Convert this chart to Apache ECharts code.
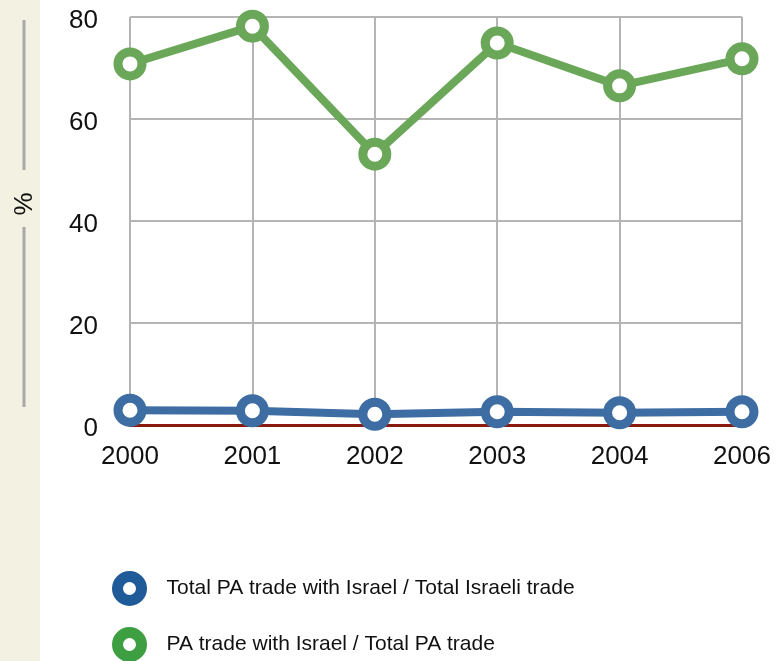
<!DOCTYPE html>
<html><head><meta charset="utf-8">
<script src="https://cdn.jsdelivr.net/npm/echarts@6/dist/echarts.min.js"></script>
<style>html,body{margin:0;padding:0;background:#fff}#c{width:784px;height:661px}</style>
</head><body><div id="c"></div>
<script>
const categories = ['2000','2001','2002','2003','2004','2006'];
const paIsraelShareOfIsraeli = [2.9, 2.8, 2.1, 2.6, 2.4, 2.6];
const paIsraelShareOfPA = [70.8, 78.2, 53.1, 74.9, 66.5, 71.8];
const seriesNames = ['Total PA trade with Israel / Total Israeli trade', 'PA trade with Israel / Total PA trade'];
const yTicks = [0, 20, 40, 60, 80];

const font = 'Liberation Sans, Arial, Helvetica, sans-serif';
const chart = echarts.init(document.getElementById('c'));
const legendText = {fontSize:21, fontFamily:font, color:'#111', padding:[0,0,0,20]};
chart.setOption({
  animation: false,
  backgroundColor: '#fff',
  graphic: [
    {type:'rect', left:0, top:0, shape:{x:0,y:0,width:40,height:661}, style:{fill:'#F3F1E2'}, z:-10},
    {type:'line', shape:{x1:24,y1:20,x2:24,y2:170}, style:{stroke:'#a8a8a8', lineWidth:3}},
    {type:'line', shape:{x1:24,y1:227,x2:24,y2:407}, style:{stroke:'#a8a8a8', lineWidth:3}},
    {type:'text', x:25, y:204, rotation:Math.PI/2, style:{text:'%', font:'26px '+font, fill:'#111', align:'center', verticalAlign:'middle'}}
  ],
  grid: {left:130, right:42, top:17, bottom:236, containLabel:false},
  legend: [
    {orient:'vertical', left:107, top:566, itemWidth:24, itemHeight:24, selectedMode:false,
     textStyle:legendText,
     data:[{name: seriesNames[0], icon:'circle', itemStyle:{color:'#fff', borderColor:'#1F5B98', borderWidth:11}}]},
    {orient:'vertical', left:107, top:622, itemWidth:24, itemHeight:24, selectedMode:false,
     textStyle:legendText,
     data:[{name: seriesNames[1], icon:'circle', itemStyle:{color:'#fff', borderColor:'#3E9F42', borderWidth:11}}]}
  ],
  xAxis: {
    type:'category', data:categories, boundaryGap:false,
    axisLine:{show:true, lineStyle:{color:'#8B1A10', width:3}},
    axisTick:{show:false},
    axisLabel:{fontSize:26, fontFamily:font, color:'#111', margin:19},
    splitLine:{show:true, lineStyle:{color:'#b4b4b4', width:2}}
  },
  yAxis: {
    type:'value', min:yTicks[0], max:yTicks[yTicks.length-1], interval:20,
    axisLine:{show:false}, axisTick:{show:false},
    axisLabel:{fontSize:26, fontFamily:font, color:'#111', margin:32,
      formatter:'{v|{value}}', rich:{v:{fontSize:26, fontFamily:font, color:'#111', padding:[8,0,0,0]}}},
    splitLine:{show:true, lineStyle:{color:'#b4b4b4', width:2}}
  },
  series: [
    {name:seriesNames[0], type:'line', data:paIsraelShareOfIsraeli, symbol:'circle', symbolSize:24,
     lineStyle:{color:'#3D6DA2', width:8}, itemStyle:{color:'#fff', borderColor:'#3D6DA2', borderWidth:9}, z:3},
    {name:seriesNames[1], type:'line', data:paIsraelShareOfPA, symbol:'circle', symbolSize:24,
     lineStyle:{color:'#6BA759', width:8}, itemStyle:{color:'#fff', borderColor:'#6BA759', borderWidth:9}, z:3}
  ]
});
</script></body></html>
